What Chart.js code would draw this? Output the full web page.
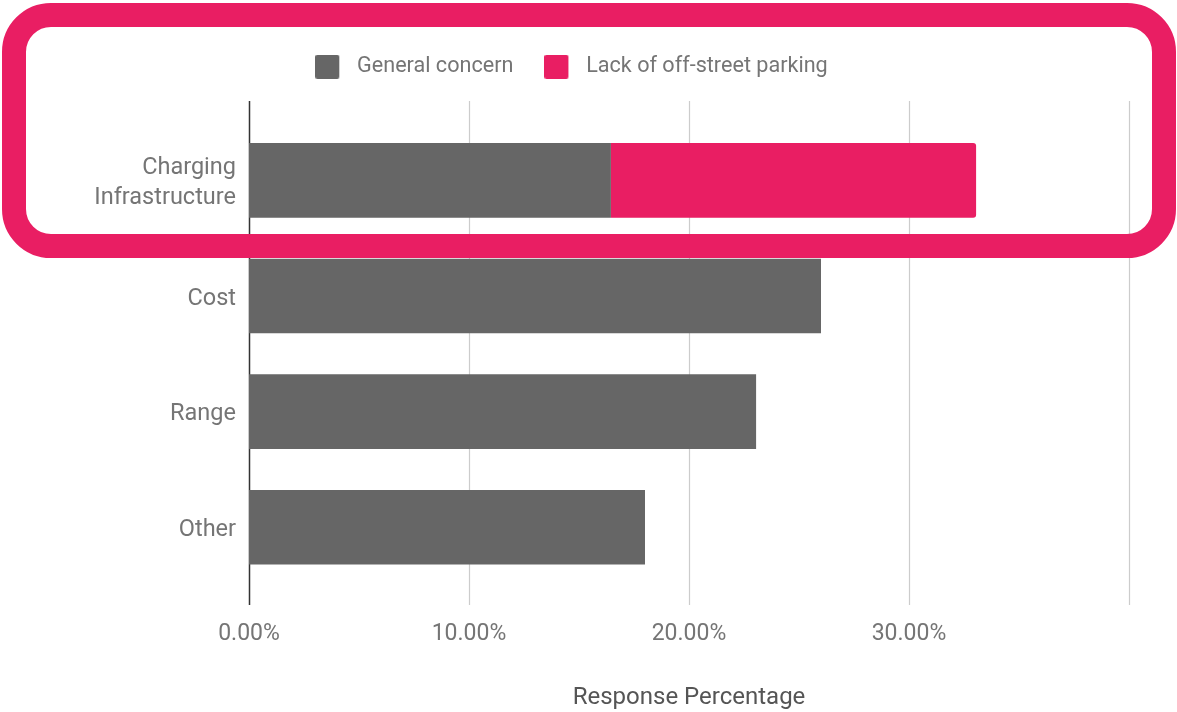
<!DOCTYPE html>
<html>
<head>
<meta charset="utf-8">
<script src="https://cdn.jsdelivr.net/npm/chart.js@4.4.1/dist/chart.umd.min.js"></script>
<style>
  html, body { margin: 0; padding: 0; background: #ffffff; }
  #wrap { width: 1177px; height: 712px; position: relative; }
</style>
</head>
<body>
<div id="wrap"><canvas id="c" width="1177" height="712"></canvas></div>
<script>
const categories = [["Charging", "Infrastructure"], "Cost", "Range", "Other"];
const generalConcern = [16.45, 26.0, 23.05, 18.0];
const offStreetParking = [16.6, 0, 0, 0];
const seriesNames = ["General concern", "Lack of off-street parking"];
const xTicks = [0, 10, 20, 30, 40];
const xTickLabels = ["0.00%", "10.00%", "20.00%", "30.00%", ""];
const axisTitle = "Response Percentage";

const GRAY = "#666666";
const PINK = "#E91E63";
const TEXT = "#757575";
const FONT = "Roboto";

function legendSwatch(color) {
  const cv = document.createElement("canvas");
  cv.width = 31; cv.height = 24;
  const g = cv.getContext("2d");
  g.fillStyle = color;
  g.beginPath();
  g.roundRect(0, 0, 24, 24, 2);
  g.fill();
  return cv;
}

const gridPlugin = {
  id: "gridExt",
  beforeDatasetsDraw(chart) {
    const { ctx } = chart;
    const xs = chart.scales.x;
    ctx.save();
    xs.ticks.forEach(t => {
      const px = Math.round(xs.getPixelForValue(t.value)) + 0.5;
      ctx.beginPath();
      ctx.strokeStyle = t.value === 0 ? "#333333" : "#cccccc";
      ctx.lineWidth = t.value === 0 ? 1.5 : 1.2;
      ctx.moveTo(px, 101);
      ctx.lineTo(px, 605);
      ctx.stroke();
    });
    ctx.restore();
  }
};

const highlightPlugin = {
  id: "highlight",
  afterDraw(chart) {
    const { ctx } = chart;
    ctx.save();
    ctx.strokeStyle = PINK;
    ctx.lineWidth = 24;
    ctx.beginPath();
    ctx.roundRect(14, 15, 1150, 231, 37);
    ctx.stroke();
    ctx.restore();
  }
};

new Chart(document.getElementById("c"), {
  type: "bar",
  data: {
    labels: categories,
    datasets: [
      { label: seriesNames[0], data: generalConcern, backgroundColor: GRAY, borderWidth: 0,
        pointStyle: legendSwatch(GRAY), borderRadius: 0 },
      { label: seriesNames[1], data: offStreetParking, backgroundColor: PINK, borderWidth: 0,
        pointStyle: legendSwatch(PINK), borderRadius: { topRight: 3, bottomRight: 3 }, borderSkipped: false }
    ]
  },
  options: {
    indexAxis: "y",
    responsive: false,
    animation: false,
    devicePixelRatio: 1,
    layout: { padding: { top: 25, right: 48, left: 14, bottom: 0 } },
    datasets: { bar: { barPercentage: 0.645, categoryPercentage: 1.0 } },
    plugins: {
      tooltip: { enabled: false },
      title: {
        display: true, text: "", position: "top", weight: 500,
        padding: 0, font: { size: 10, lineHeight: "35px" }
      },
      legend: {
        position: "top",
        align: "center",
        labels: {
          usePointStyle: true,
          pointStyleWidth: 31,
          boxHeight: 24,
          padding: 31,
          color: TEXT,
          font: { family: FONT, size: 21.6 }
        }
      }
    },
    scales: {
      x: {
        stacked: true,
        min: 0, max: 40,
        afterBuildTicks(scale) { scale.ticks = xTicks.map(v => ({ value: v })); },
        afterFit(scale) { scale.height = 127; },
        grid: { display: false, drawTicks: false },
        border: { display: false },
        ticks: {
          padding: 35,
          color: TEXT,
          font: { family: FONT, size: 23 },
          callback(value) { return xTickLabels[xTicks.indexOf(value)]; }
        },
        title: {
          display: true, text: axisTitle, color: "#555555",
          font: { family: FONT, size: 24 }, padding: { top: 0, bottom: 0 }
        }
      },
      y: {
        stacked: true,
        afterFit(scale) { scale.width = 235; },
        grid: { display: false, drawTicks: false },
        border: { display: false },
        ticks: {
          padding: 13,
          labelOffset: 3,
          color: TEXT,
          font: { family: FONT, size: 23.5, lineHeight: 1.26 }
        }
      }
    }
  },
  plugins: [gridPlugin, highlightPlugin]
});
</script>
</body>
</html>
